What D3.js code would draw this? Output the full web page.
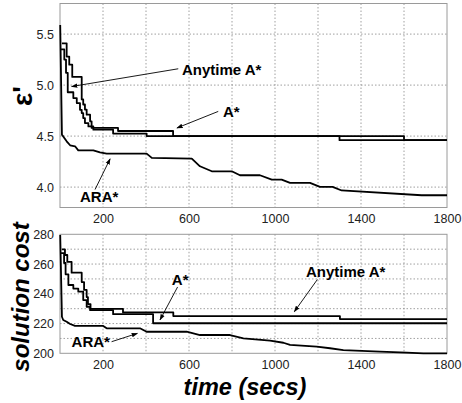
<!DOCTYPE html>
<html><head><meta charset="utf-8">
<script src="https://cdn.jsdelivr.net/npm/d3@7/dist/d3.min.js"></script>
<style>body{margin:0;background:#fff}svg{display:block}text{font-family:"Liberation Sans",Arial,sans-serif}</style>
</head><body><svg id="c" width="462" height="403"></svg>
<script>
// ---------- data ----------
const xTicks = [200, 600, 1000, 1400, 1800];
const xGrid = [200, 400, 600, 800, 1000, 1200, 1400, 1600];
const topYTicks = [4.0, 4.5, 5.0, 5.5];
const botYTicks = [200, 220, 240, 260, 280];
const botYGrid = [210, 220, 230, 240, 250, 260, 270];

// top panel (epsilon') : [time, value]
const topAnytime = [[9,5.41],[31,5.28],[43,5.20],[57,5.08],[101,4.86],[108,4.81],[116,4.76],[124,4.71],[140,4.645],[147,4.58],[270,4.55],[526,4.50],[1600,4.46],[1800,4.46]];
const topAstar = [[5,5.35],[20,5.25],[28,5.12],[36,4.93],[62,4.873],[78,4.824],[93,4.758],[101,4.726],[108,4.677],[116,4.628],[132,4.595],[155,4.563],[247,4.525],[403,4.50],[1300,4.46],[1800,4.46]];
const topARA = [[1,5.59],[9,4.514],[15,4.497],[31,4.449],[47,4.41],[70,4.40],[85,4.36],[155,4.36],[186,4.34],[217,4.328],[403,4.328],[427,4.286],[613,4.28],[651,4.204],[706,4.155],[799,4.155],[837,4.116],[930,4.116],[985,4.074],[1031,4.074],[1070,4.042],[1163,4.042],[1209,4.003],[1268,4.003],[1310,3.967],[1682,3.92],[1800,3.92]];

// bottom panel (solution cost)
const botAnytime = [[9,269.9],[23,266.1],[34,261.4],[54,254.2],[101,247.9],[112,242.6],[124,237.8],[130,233.1],[142,229.8],[293,227.5],[527,225.0],[1302,223.0],[1800,223.0]];
const botAstar = [[5,267.4],[19,260.7],[26,253.1],[39,245.9],[62,243.5],[85,241.4],[108,235.8],[124,231.3],[140,229.0],[247,226.3],[403,226.3],[433,220.2],[1800,220.2]];
const botARA = [[1,279.5],[9,224.6],[15,222.4],[31,221.2],[47,219.7],[70,218.4],[201,218.4],[217,216.8],[372,216.8],[403,214.5],[589,214.5],[651,212.3],[791,212.3],[853,210.1],[977,208.5],[1039,207.1],[1070,205.6],[1194,204.5],[1256,203.4],[1318,202.2],[1488,201.1],[1613,200.4],[1690,200],[1800,200]];

// annotations: label, text anchor (t,v), arrow from (t,v) to (t,v)
const topNotes = [
  {label:"Anytime A*", at:[567,5.10], from:[550,5.16], to:[54,4.986]},
  {label:"A*", at:[758,4.69], from:[736,4.742], to:[544,4.58]},
  {label:"ARA*", at:[93,3.85], from:[163,3.976], to:[233,4.277]}
];
const botNotes = [
  {label:"A*", at:[520,245.9], from:[547,244.6], to:[465,222.4]},
  {label:"ARA*", at:[54,204.2], from:[240,207.8], to:[360,213.4]},
  {label:"Anytime A*", at:[1144,251.3], from:[1197,249.6], to:[1090,228]}
];

// ---------- drawing ----------
const svg = d3.select("#c");
svg.append("rect").attr("width",462).attr("height",403).attr("fill","#fff");
const defs = svg.append("defs");
defs.append("marker").attr("id","ah").attr("viewBox","0 0 10 10").attr("refX",9).attr("refY",5)
  .attr("markerWidth",7).attr("markerHeight",7).attr("orient","auto-start-reverse")
  .append("path").attr("d","M0,1.5L10,5L0,8.5z").attr("fill","#000");

const x = d3.scaleLinear().domain([0,1800]).range([60,447]);

function panel(yDomain, yRange, yTicks, yGrid, series, notes, fmt){
  const y = d3.scaleLinear().domain(yDomain).range(yRange);
  const g = svg.append("g");
  // grid
  g.selectAll(".vg").data(xGrid).join("line")
    .attr("x1",d=>x(d)).attr("x2",d=>x(d)).attr("y1",yRange[1]).attr("y2",yRange[0])
    .attr("stroke","#888").attr("stroke-width",0.8).attr("stroke-dasharray","1.5,2");
  g.selectAll(".hg").data(yGrid).join("line")
    .attr("x1",x(0)).attr("x2",x(1800)).attr("y1",d=>y(d)).attr("y2",d=>y(d))
    .attr("stroke","#888").attr("stroke-width",0.8).attr("stroke-dasharray","1.5,2");
  // frame
  g.append("rect").attr("x",x(0)).attr("y",yRange[1]).attr("width",x(1800)-x(0)).attr("height",yRange[0]-yRange[1])
    .attr("fill","none").attr("stroke","#9a9a9a").attr("stroke-width",1);
  // axes
  const ya = d3.axisLeft(y).tickValues(yTicks).tickSize(0).tickPadding(6).tickFormat(fmt);
  const yg = g.append("g").attr("transform",`translate(${x(0)},0)`).call(ya);
  yg.select(".domain").remove();
  yg.selectAll("text").attr("font-size",12.5).attr("fill","#222");
  const xa = d3.axisBottom(x).tickValues(xTicks).tickSize(0).tickPadding(7).tickFormat(d3.format("d"));
  const xg = g.append("g").attr("transform",`translate(0,${yRange[0]})`).call(xa);
  xg.select(".domain").remove();
  xg.selectAll("text").attr("font-size",12.5).attr("fill","#222");
  // series
  series.forEach(s=>{
    const line = d3.line().x(d=>x(d[0])).y(d=>y(d[1])).curve(s.curve);
    g.append("path").datum(s.data).attr("d",line).attr("fill","none")
      .attr("stroke","#000").attr("stroke-width",1.8).attr("stroke-linejoin","round");
  });
  // annotations
  notes.forEach(n=>{
    g.append("line").attr("x1",x(n.from[0])).attr("y1",y(n.from[1]))
      .attr("x2",x(n.to[0])).attr("y2",y(n.to[1]))
      .attr("stroke","#000").attr("stroke-width",0.9).attr("marker-end","url(#ah)");
    g.append("text").attr("x",x(n.at[0])).attr("y",y(n.at[1]))
      .attr("font-size",15).attr("font-weight","bold").attr("fill","#000").text(n.label);
  });
  return y;
}

panel([3.8,5.8],[207.5,3.5],topYTicks,topYTicks,
  [{data:topAnytime,curve:d3.curveStepAfter},{data:topAstar,curve:d3.curveStepAfter},{data:topARA,curve:d3.curveLinear}],
  topNotes, d3.format(".1f"));
panel([200,280],[353.3,234.3],botYTicks,botYGrid,
  [{data:botAnytime,curve:d3.curveStepAfter},{data:botAstar,curve:d3.curveStepAfter},{data:botARA,curve:d3.curveLinear}],
  botNotes, d3.format("d"));

// axis titles
svg.append("text").attr("transform","translate(32,96) rotate(-90)").attr("text-anchor","middle")
  .attr("font-size",28).attr("font-weight","bold").text("ε'");
svg.append("text").attr("transform","translate(29,297) rotate(-90)").attr("text-anchor","middle")
  .attr("font-size",24).attr("font-weight","bold").attr("font-style","italic").text("solution cost");
svg.append("text").attr("x",245).attr("y",395).attr("text-anchor","middle")
  .attr("font-size",23.5).attr("font-weight","bold").attr("font-style","italic").text("time (secs)");
</script></body></html>
